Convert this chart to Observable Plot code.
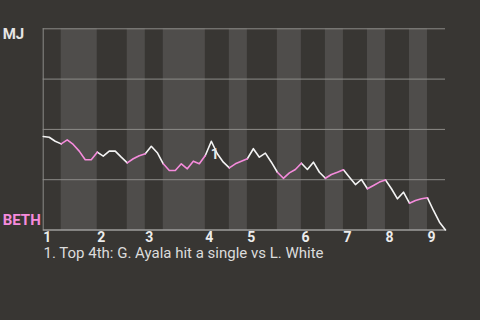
<!DOCTYPE html>
<html><head><meta charset="utf-8">
<script src="https://cdn.jsdelivr.net/npm/d3@7"></script>
<script src="https://cdn.jsdelivr.net/npm/@observablehq/plot@0.6"></script>
<style>
html,body{margin:0;padding:0;background:#383633;}
body{width:480px;height:320px;overflow:hidden;font-family:Roboto,sans-serif;}
</style></head><body><div id="chart"></div>
<script>
// Win probability for MJ after each event (0 = BETH wins, 1 = MJ wins)
const winProb = [
  0.465,0.461,0.441,0.428,0.448,0.425,0.392,0.349,0.349,0.387,
  0.367,0.392,0.392,0.362,0.334,0.354,0.369,0.379,0.416,0.384,
  0.329,0.296,0.296,0.329,0.304,0.342,0.329,0.370,0.441,0.379,
  0.337,0.309,0.329,0.342,0.354,0.404,0.362,0.382,0.337,0.287,
  0.257,0.284,0.301,0.332,0.301,0.337,0.287,0.257,0.276,0.287,
  0.299,0.262,0.226,0.251,0.205,0.221,0.238,0.249,0.205,0.155,
  0.188,0.133,0.147,0.155,0.160,0.097,0.039,0.000
];
// Event index where each half-inning starts (top 1, bottom 1, top 2, ...)
const halfStarts = [0,3,9,14,17,20,27,31,34,39,43,47,50,54,57,61,64];
const lastEvent = 67;
const inningLabels = ["1","2","3","4","5","6","7","8","9"];
const teamTop = "MJ";
const teamBottom = "BETH";
const annotations = [{event: 28, label: "1"}];
const caption = "1. Top 4th: G. Ayala hit a single vs L. White";
const gridValues = [0.25, 0.5, 0.75, 1];

const halves = halfStarts.map((s, k) => ({
  k, start: s, end: k + 1 < halfStarts.length ? halfStarts[k + 1] : lastEvent, top: k % 2 === 0
}));
const rows = [];
for (const h of halves) for (let i = h.start; i <= h.end; i++) rows.push({x: i, p: winProb[i], half: h.k, top: h.top});
const innings = halves.filter(h => h.top).map((h, i) => ({x: h.start, label: inningLabels[i]}));
const ann = annotations.map(a => ({x: a.event, p: winProb[a.event], label: a.label}));

const white = "#f4f4f4", pink = "#f58bdc";
const chart = Plot.plot({
  width: 480, height: 320,
  marginLeft: 42.7, marginRight: 35, marginTop: 28.3, marginBottom: 90.5,
  style: {background: "#383633", fontFamily: "Roboto, sans-serif", overflow: "visible"},
  x: {domain: [0, lastEvent], axis: null},
  y: {domain: [0, 1], axis: null},
  marks: [
    Plot.rect(halves.filter(h => !h.top), {x1: "start", x2: "end", y1: 0, y2: 1, fill: "#4f4d4b"}),
    Plot.ruleY(gridValues, {stroke: "#8c8b88", strokeWidth: 1}),
    Plot.ruleX([0], {y1: 0, y2: 1, stroke: "#8c8b88", strokeWidth: 1}),
    Plot.ruleY([0], {stroke: "#cfcfcf", strokeWidth: 1.2}),
    Plot.line(rows.filter(d => d.top), {x: "x", y: "p", z: "half", stroke: white, strokeWidth: 1.6}),
    Plot.line(rows.filter(d => !d.top), {x: "x", y: "p", z: "half", stroke: pink, strokeWidth: 1.6}),
    Plot.text(ann, {x: "x", y: "p", text: "label", textAnchor: "start", lineAnchor: "top", dx: -0.5, dy: 7.5, fill: "#e8e8e8", fontSize: 14, fontWeight: "bold"}),
    Plot.text(innings, {x: "x", y: 0, text: "label", textAnchor: "start", lineAnchor: "top", dy: 2.2, fill: "#ececec", fontSize: 14, fontWeight: "bold"}),
    Plot.text([teamTop], {y: 1, frameAnchor: "left", text: d => d, textAnchor: "start", lineAnchor: "top", dx: -40.5, dy: -0.5, fill: "#e6e6e6", fontSize: 15, fontWeight: "bold"}),
    Plot.text([teamBottom], {y: 0, frameAnchor: "left", text: d => d, textAnchor: "start", lineAnchor: "top", dx: -40.5, dy: -15.5, fill: pink, fontSize: 15, fontWeight: "bold"}),
    Plot.text([caption], {y: 0, frameAnchor: "left", text: d => d, textAnchor: "start", lineAnchor: "top", dx: 0.3, dy: 17.8, fill: "#dcdcdc", fontSize: 15})
  ]
});
document.getElementById("chart").appendChild(chart);
</script></body></html>
